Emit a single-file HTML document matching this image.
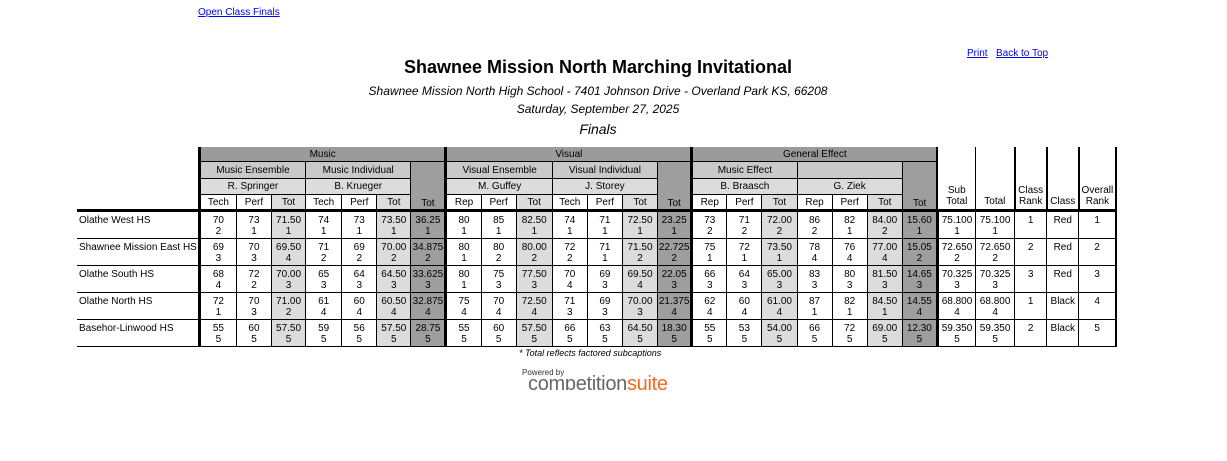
<!DOCTYPE html>
<html><head><meta charset="utf-8"><style>
body{margin:0;width:1227px;height:461px;background:#fff;font-family:"Liberation Sans",Arial,sans-serif;position:relative;overflow:hidden}
a{color:#00e;text-decoration:underline;font-size:10px;position:absolute}
.c{position:absolute;left:0;width:1196px;text-align:center}
table{position:absolute;left:77px;top:147px;border-collapse:collapse;table-layout:fixed;width:1040px}
td{border:1px solid #000;padding:0;text-align:center;font-size:10px;line-height:11px;overflow:hidden;white-space:nowrap}
.h1{background:#9b9b9b;height:14px;border-top:none}
.h2{background:#c9c9c9;height:16px}
.h3{background:#dcdcdc;height:15px}
.h4{height:14px;border-bottom:3px solid #000}
.L{border-left:3px solid #000}
.R{border-right:2px solid #000}
.s{background:#dcdcdc}
.t{background:#9e9e9e}
.n{text-align:left;padding-left:2px;border-left:none}
tbody td{vertical-align:top;padding-top:3px;height:23px}
.w{vertical-align:bottom;border-top:none;border-bottom:3px solid #000;border-left:2px solid #000;padding-bottom:2px}
</style></head><body>
<a style="left:198px;top:7px">Open Class Finals</a>
<a style="left:967px;top:48px">Print</a><a style="left:996px;top:48px">Back to Top</a>
<div class="c" style="top:57px;font-size:18px;font-weight:bold">Shawnee Mission North Marching Invitational</div>
<div class="c" style="top:84px;font-size:12px;font-style:italic">Shawnee Mission North High School - 7401 Johnson Drive - Overland Park KS, 66208</div>
<div class="c" style="top:102px;font-size:12px;font-style:italic">Saturday, September 27, 2025</div>
<div class="c" style="top:121px;font-size:14px;font-style:italic">Finals</div>
<table>
<colgroup><col style="width:122px"><col style="width:37px"><col style="width:35px"><col style="width:34px"><col style="width:36px"><col style="width:35px"><col style="width:34px"><col style="width:35px"><col style="width:35px"><col style="width:35px"><col style="width:36px"><col style="width:35px"><col style="width:35px"><col style="width:35px"><col style="width:34px"><col style="width:35px"><col style="width:35px"><col style="width:35px"><col style="width:35px"><col style="width:35px"><col style="width:35px"><col style="width:35px"><col style="width:38px"><col style="width:39px"><col style="width:32px"><col style="width:32px"><col style="width:37px"></colgroup>
<thead>
<tr><td rowspan="4" style="border:none;border-bottom:3px solid #000"></td><td colspan="7" class="h1 L">Music</td><td colspan="7" class="h1 L">Visual</td><td colspan="7" class="h1 L">General Effect</td><td rowspan="4" class="w">Sub<br>Total</td><td rowspan="4" class="w" style="border-left:1px solid #000">Total</td><td rowspan="4" class="w">Class<br>Rank</td><td rowspan="4" class="w">Class</td><td rowspan="4" class="w R">Overall<br>Rank</td></tr>
<tr><td colspan="3" class="h2 L">Music Ensemble</td><td colspan="3" class="h2">Music Individual</td><td rowspan="3" class="t h4" style="vertical-align:bottom">Tot</td><td colspan="3" class="h2 L">Visual Ensemble</td><td colspan="3" class="h2">Visual Individual</td><td rowspan="3" class="t h4" style="vertical-align:bottom">Tot</td><td colspan="3" class="h2 L">Music Effect</td><td colspan="3" class="h2"></td><td rowspan="3" class="t h4" style="vertical-align:bottom">Tot</td></tr>
<tr><td colspan="3" class="h3 L">R. Springer</td><td colspan="3" class="h3">B. Krueger</td><td colspan="3" class="h3 L">M. Guffey</td><td colspan="3" class="h3">J. Storey</td><td colspan="3" class="h3 L">B. Braasch</td><td colspan="3" class="h3">G. Ziek</td></tr>
<tr><td class="h4 L">Tech</td><td class="h4">Perf</td><td class="h4 s">Tot</td><td class="h4">Tech</td><td class="h4">Perf</td><td class="h4 s">Tot</td><td class="h4 L">Rep</td><td class="h4">Perf</td><td class="h4 s">Tot</td><td class="h4">Tech</td><td class="h4">Perf</td><td class="h4 s">Tot</td><td class="h4 L">Rep</td><td class="h4">Perf</td><td class="h4 s">Tot</td><td class="h4">Rep</td><td class="h4">Perf</td><td class="h4 s">Tot</td></tr>
</thead>
<tbody>
<tr><td class="n">Olathe West HS</td><td class="L">70<br>2</td><td>73<br>1</td><td class="s">71.50<br>1</td><td>74<br>1</td><td>73<br>1</td><td class="s">73.50<br>1</td><td class="t">36.25<br>1</td><td class="L">80<br>1</td><td>85<br>1</td><td class="s">82.50<br>1</td><td>74<br>1</td><td>71<br>1</td><td class="s">72.50<br>1</td><td class="t">23.25<br>1</td><td class="L">73<br>2</td><td>71<br>2</td><td class="s">72.00<br>2</td><td>86<br>2</td><td>82<br>1</td><td class="s">84.00<br>2</td><td class="t">15.60<br>1</td><td class="L">75.100<br>1</td><td>75.100<br>1</td><td>1</td><td>Red</td><td class="R">1</td></tr>
<tr><td class="n">Shawnee Mission East HS</td><td class="L">69<br>3</td><td>70<br>3</td><td class="s">69.50<br>4</td><td>71<br>2</td><td>69<br>2</td><td class="s">70.00<br>2</td><td class="t">34.875<br>2</td><td class="L">80<br>1</td><td>80<br>2</td><td class="s">80.00<br>2</td><td>72<br>2</td><td>71<br>1</td><td class="s">71.50<br>2</td><td class="t">22.725<br>2</td><td class="L">75<br>1</td><td>72<br>1</td><td class="s">73.50<br>1</td><td>78<br>4</td><td>76<br>4</td><td class="s">77.00<br>4</td><td class="t">15.05<br>2</td><td class="L">72.650<br>2</td><td>72.650<br>2</td><td>2</td><td>Red</td><td class="R">2</td></tr>
<tr><td class="n">Olathe South HS</td><td class="L">68<br>4</td><td>72<br>2</td><td class="s">70.00<br>3</td><td>65<br>3</td><td>64<br>3</td><td class="s">64.50<br>3</td><td class="t">33.625<br>3</td><td class="L">80<br>1</td><td>75<br>3</td><td class="s">77.50<br>3</td><td>70<br>4</td><td>69<br>3</td><td class="s">69.50<br>4</td><td class="t">22.05<br>3</td><td class="L">66<br>3</td><td>64<br>3</td><td class="s">65.00<br>3</td><td>83<br>3</td><td>80<br>3</td><td class="s">81.50<br>3</td><td class="t">14.65<br>3</td><td class="L">70.325<br>3</td><td>70.325<br>3</td><td>3</td><td>Red</td><td class="R">3</td></tr>
<tr><td class="n">Olathe North HS</td><td class="L">72<br>1</td><td>70<br>3</td><td class="s">71.00<br>2</td><td>61<br>4</td><td>60<br>4</td><td class="s">60.50<br>4</td><td class="t">32.875<br>4</td><td class="L">75<br>4</td><td>70<br>4</td><td class="s">72.50<br>4</td><td>71<br>3</td><td>69<br>3</td><td class="s">70.00<br>3</td><td class="t">21.375<br>4</td><td class="L">62<br>4</td><td>60<br>4</td><td class="s">61.00<br>4</td><td>87<br>1</td><td>82<br>1</td><td class="s">84.50<br>1</td><td class="t">14.55<br>4</td><td class="L">68.800<br>4</td><td>68.800<br>4</td><td>1</td><td>Black</td><td class="R">4</td></tr>
<tr><td class="n">Basehor-Linwood HS</td><td class="L">55<br>5</td><td>60<br>5</td><td class="s">57.50<br>5</td><td>59<br>5</td><td>56<br>5</td><td class="s">57.50<br>5</td><td class="t">28.75<br>5</td><td class="L">55<br>5</td><td>60<br>5</td><td class="s">57.50<br>5</td><td>66<br>5</td><td>63<br>5</td><td class="s">64.50<br>5</td><td class="t">18.30<br>5</td><td class="L">55<br>5</td><td>53<br>5</td><td class="s">54.00<br>5</td><td>66<br>5</td><td>72<br>5</td><td class="s">69.00<br>5</td><td class="t">12.30<br>5</td><td class="L">59.350<br>5</td><td>59.350<br>5</td><td>2</td><td>Black</td><td class="R">5</td></tr>
</tbody></table>
<div style="position:absolute;left:519px;top:348px;font-size:9px;font-style:italic">* Total reflects factored subcaptions</div>
<div style="position:absolute;left:522px;top:368px;font-size:8px;color:#333">Powered by</div>
<div style="position:absolute;left:528px;top:373px;height:17px;overflow:hidden;font-size:20px;line-height:22px;letter-spacing:-0.3px;color:#666">competition<span style="color:#f26a21">suite</span></div>
</body></html>
